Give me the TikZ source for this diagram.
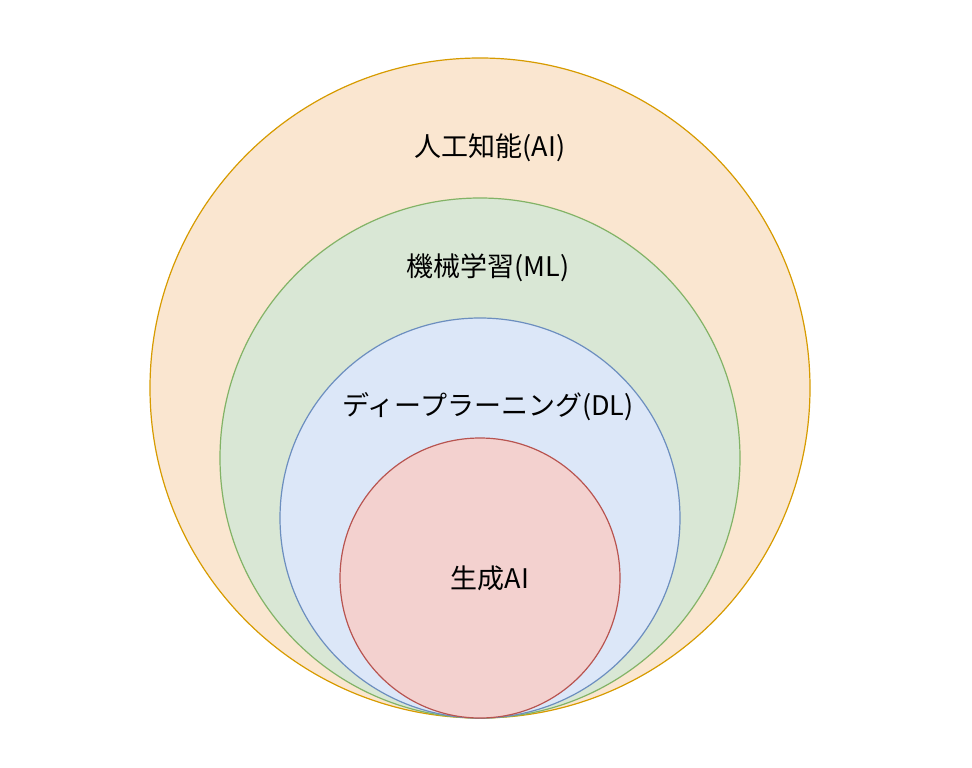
\documentclass[tikz,border=0pt]{standalone}
\usepackage{fontspec}
\setmainfont{Noto Sans CJK JP}
\definecolor{aifill}{HTML}{FAE6D0}
\definecolor{aidraw}{HTML}{D79B00}
\definecolor{mlfill}{HTML}{D9E7D5}
\definecolor{mldraw}{HTML}{82B366}
\definecolor{dlfill}{HTML}{DCE7F8}
\definecolor{dldraw}{HTML}{6C8EBF}
\definecolor{genfill}{HTML}{F3D1CF}
\definecolor{gendraw}{HTML}{B85450}
\tikzset{
  field/.style={circle,inner sep=0pt,line width=1.2pt},
  fieldlabel/.style={font=\fontsize{27}{32}\selectfont}
}
\begin{document}
\begin{tikzpicture}[x=1pt,y=-1pt]
\useasboundingbox (0,0) rectangle (972,768);
%nested circles
\node (ai) at (480,388) [field,draw=aidraw,fill=aifill,minimum size=660pt] {};
\node (ml) at (480,458) [field,draw=mldraw,fill=mlfill,minimum size=520pt] {};
\node (dl) at (480,518) [field,draw=dldraw,fill=dlfill,minimum size=400pt] {};
\node (gen) at (480,578) [field,draw=gendraw,fill=genfill,minimum size=280pt] {};
%labels
\node (ailabel) at (490,148) [fieldlabel] {人工知能(AI)};
\node (mllabel) at (488,268) [fieldlabel] {機械学習(ML)};
\node (dllabel) at (488,407) [fieldlabel] {ディープラーニング(DL)};
\node (genlabel) at (490,578) [fieldlabel] {生成AI};
\end{tikzpicture}
\end{document}
